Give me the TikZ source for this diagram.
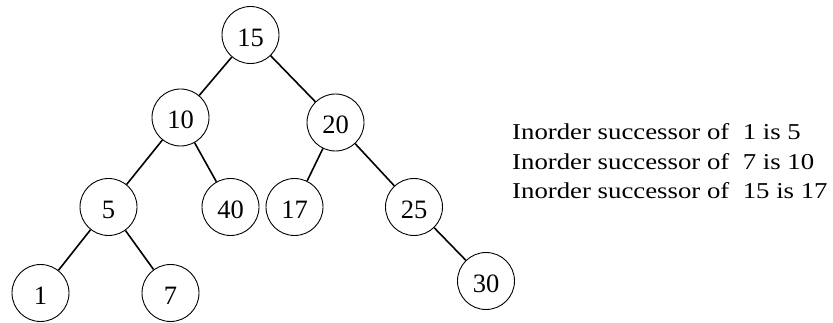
\documentclass[tikz,border=0pt]{standalone}
\usepackage{fontspec}
\usepackage{graphicx}
\setmainfont{Liberation Serif}
\begin{document}
\begin{tikzpicture}[x=1pt,y=-1pt,
  tn/.style={circle,draw,line width=0.9pt,minimum size=57pt,inner sep=0pt,
    text height=23pt,text depth=0pt,font=\fontsize{26.5}{26.5}\selectfont},
  edge/.style={line width=1.6pt},
  lbl/.style={anchor=base west,inner sep=0pt,font=\fontsize{22.7}{28}\selectfont}]
\useasboundingbox (0,0) rectangle (833,323);
\node[tn] (n15) at (250.5,35) {15};
\node[tn] (n10) at (180.5,117.5) {10};
\node[tn] (n20) at (335.5,122.5) {20};
\node[tn] (n5) at (108.5,207) {5};
\node[tn] (n40) at (230.5,207) {40};
\node[tn] (n17) at (294.5,207) {17};
\node[tn] (n25) at (414,207) {25};
\node[tn] (n1) at (40.5,293) {1};
\node[tn] (n7) at (170.5,293) {7};
\node[tn] (n30) at (486,281) {30};
\draw[edge] (n15) -- (n10);
\draw[edge] (n15) -- (n20);
\draw[edge] (n10) -- (n5);
\draw[edge] (n10) -- (n40);
\draw[edge] (n20) -- (n17);
\draw[edge] (n20) -- (n25);
\draw[edge] (n5) -- (n1);
\draw[edge] (n5) -- (n7);
\draw[edge] (n25) -- (n30);
\node[lbl] (t1) at (512,140) {\scalebox{1.18}[1]{Inorder successor of\ \ 1 is 5}};
\node[lbl] (t2) at (512,170) {\scalebox{1.18}[1]{Inorder successor of\ \ 7 is 10}};
\node[lbl] (t3) at (512,199) {\scalebox{1.18}[1]{Inorder successor of\ \ 15 is 17}};
\end{tikzpicture}
\end{document}
